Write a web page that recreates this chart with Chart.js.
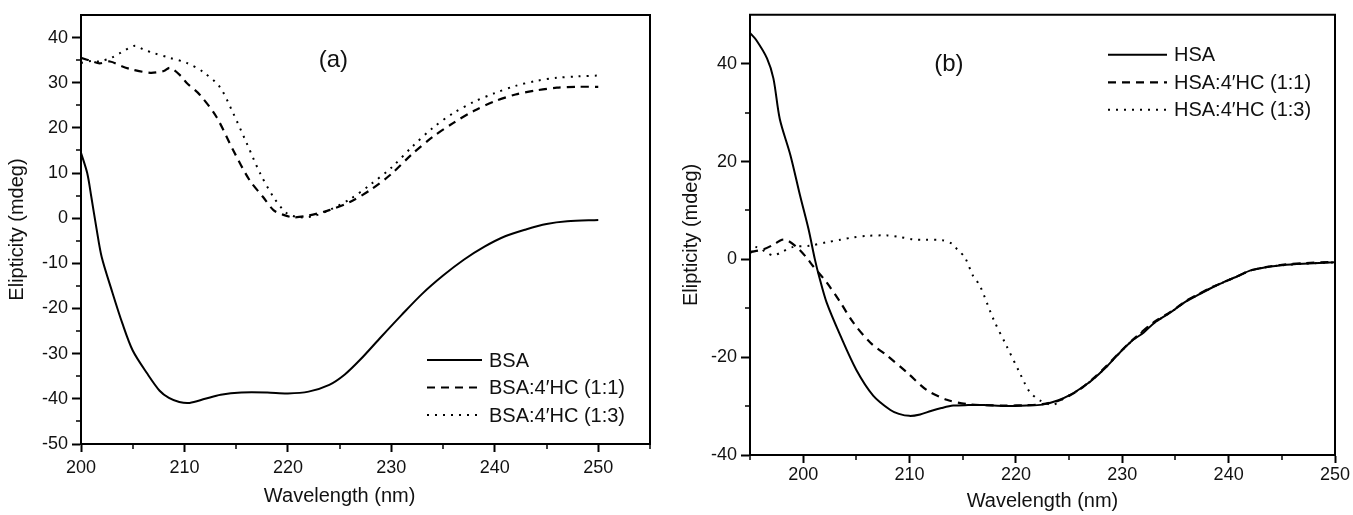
<!DOCTYPE html>
<html>
<head>
<meta charset="utf-8">
<title>CD spectra</title>
<script src="https://cdn.jsdelivr.net/npm/chart.js@4.4.1/dist/chart.umd.min.js"></script>
<style>
    body { margin: 0; background: #fff; overflow: hidden; }
    #wrap_a { position: absolute; left: 0; top: 0; }
    #wrap_b { position: absolute; left: 670px; top: 0; }
</style>
</head>
<body>
<div id="wrap_a"><canvas id="cd_bsa" width="665" height="515"></canvas></div>
<div id="wrap_b"><canvas id="cd_hsa" width="683" height="515"></canvas></div>
<script>

    // (a) BSA
    const wl_bsa = [200, 200.6, 201, 201.5, 202, 203, 204, 205, 206.4, 207.6, 208.5, 209.5, 210.5, 212, 213.5, 215.5, 218, 220, 222, 224, 225.5, 227, 229, 231, 233, 235, 237, 239, 241, 243, 245, 247, 250];
    const cd_bsa = [14.5, 10, 4.7, -2.3, -8.6, -16.2, -23.3, -29.3, -34.4, -38.2, -39.8, -40.7, -40.9, -40, -39.1, -38.6, -38.6, -38.8, -38.4, -36.9, -34.6, -31.3, -26.3, -21.4, -16.7, -12.7, -9.2, -6.3, -4, -2.5, -1.3, -0.7, -0.4];

    const wl_bsa_11 = [200, 201, 201.8, 202.8, 204, 205, 206.7, 208, 208.6, 209.7, 210.2, 211.5, 213.1, 214.7, 216.3, 217.6, 218.6, 219.5, 220.5, 222, 224, 226, 228, 230, 232, 234, 236, 238, 240, 242, 244, 246, 248, 250];
    const cd_bsa_11 = [35.5, 34.8, 34.3, 34.7, 33.6, 32.9, 32.2, 32.6, 33.3, 31.4, 30, 27.3, 22.4, 15.1, 8.4, 4.7, 1.8, 0.8, 0.2, 0.6, 1.8, 3.6, 6.3, 9.8, 14.2, 18, 21.1, 23.8, 25.9, 27.4, 28.3, 28.9, 29.1, 29.1];

    const wl_bsa_13 = [200, 201, 201.8, 203, 203.8, 205.2, 206, 207, 208.6, 210.2, 211.8, 213.4, 214.7, 216, 217.3, 218.6, 219.9, 221.2, 222.5, 224, 226, 228, 230, 232, 234, 236, 238, 240, 242, 244, 246, 248, 250];
    const cd_bsa_13 = [34.4, 34.8, 34.7, 35.6, 36.6, 38.2, 37.4, 36.6, 35.5, 34.4, 32.4, 29.1, 23.3, 16.7, 10, 4.7, 1.1, 0.2, 0.5, 1.8, 4.2, 7.5, 11.2, 15.8, 20, 23.3, 25.8, 27.7, 29.3, 30.4, 31.1, 31.4, 31.6];

    // (b) HSA
    const wl_hsa = [195, 195.6, 196.6, 197.2, 197.8, 198.8, 199.7, 200.5, 201.1, 201.5, 202.2, 203.5, 205, 206.6, 208.2, 209, 210, 211, 212, 213, 214.1, 215.5, 217, 219, 221, 222.5, 224, 225.1, 226, 227.2, 228.5, 229.8, 231, 232, 233, 234.5, 236, 237, 238.5, 239.5, 241, 242, 243.5, 245, 247, 250];
    const cd_hsa = [46.3, 44.8, 41.1, 37, 28.7, 21.3, 13.1, 6.2, 0, -3.5, -8.8, -15.6, -22.6, -27.9, -30.8, -31.6, -32, -31.7, -31, -30.4, -29.9, -29.8, -29.8, -30, -29.9, -29.7, -28.8, -27.7, -26.5, -24.6, -22, -19, -16.5, -15, -13, -10.9, -8.6, -7.4, -5.7, -4.7, -3.3, -2.3, -1.6, -1.2, -0.9, -0.6];

    const wl_hsa_11 = [195, 196.2, 197.2, 198, 198.5, 199.4, 200.3, 200.9, 202.2, 203.5, 204.7, 206.3, 207.9, 209.8, 211.6, 213.5, 215.4, 217, 219, 221, 222.5, 224, 225.1, 226, 227.2, 228.5, 229.8, 231, 233, 234.5, 236, 237, 238.5, 239.5, 241, 242, 243.5, 245, 247, 250];
    const cd_hsa_11 = [1.5, 2, 3, 4, 3.9, 2.5, 0.4, -1.3, -4.7, -8.8, -12.9, -17, -19.7, -23.2, -26.7, -28.7, -29.6, -29.8, -29.9, -29.8, -29.6, -28.9, -27.8, -26.6, -24.5, -21.8, -18.9, -16.4, -12.8, -10.8, -8.5, -7.3, -5.6, -4.7, -3.3, -2.3, -1.6, -1.1, -0.8, -0.5];

    const wl_hsa_13 = [195, 195.6, 196.5, 197.2, 198, 199, 200.6, 202.2, 203.5, 204.7, 206, 207.9, 209, 210.3, 211.5, 213.1, 214, 214.5, 215.2, 216, 216.6, 217.9, 219.1, 220.4, 220.8, 221.3, 222.3, 223.5, 224.5, 226, 227.2, 228.5, 229.8, 231, 233, 234.5, 236, 237, 238.5, 239.5, 241, 242, 243.5, 245, 247, 250];
    const cd_hsa_13 = [1.2, 2.5, 1.5, 0.8, 1.5, 2.5, 2.8, 3.5, 4, 4.5, 4.8, 4.9, 4.6, 4.1, 4, 3.9, 3.2, 2, 0.4, -3.5, -5.3, -12.3, -17.6, -23.4, -25.2, -27.1, -28.9, -29.7, -28.4, -26.6, -24.6, -22, -19, -16.5, -13, -10.9, -8.6, -7.4, -5.7, -4.7, -3.3, -2.3, -1.6, -1.2, -0.9, -0.6];

    // tick values
    const ticks_a_x = [200, 210, 220, 230, 240, 250];
    const minor_a_x = [205, 215, 225, 235, 245, 255];
    const ticks_a_y = [-50, -40, -30, -20, -10, 0, 10, 20, 30, 40];
    const minor_a_y = [-45, -35, -25, -15, -5, 5, 15, 25, 35];

    const ticks_b_x = [200, 210, 220, 230, 240, 250];
    const minor_b_x = [195, 205, 215, 225, 235, 245];
    const ticks_b_y = [-40, -20, 0, 20, 40];
    const minor_b_y = [-30, -10, 10, 30];

    Chart.defaults.font.family = "'Liberation Sans', Arial, Helvetica, sans-serif";
    Chart.defaults.color = '#111';

    const toPoints = (xs, ys) => xs.map((x, i) => ({x: x, y: ys[i]}));

    const solid = {borderColor: '#000', borderWidth: 2, borderDash: []};
    const dashed = {borderColor: '#000', borderWidth: 2.2, borderDash: [8, 6]};
    const dotted = {borderColor: '#000', borderWidth: 2, borderDash: [2, 6]};

    // box frame, minor ticks, panel tag, x title and legend
    const framePlugin = {
        id: 'frame',
        afterDraw(chart, args, opts) {
            const ctx = chart.ctx;
            const a = chart.chartArea;
            const sx = chart.scales.x;
            const sy = chart.scales.y;
            ctx.save();
            ctx.strokeStyle = '#000';
            ctx.lineWidth = 2;
            ctx.setLineDash([]);
            ctx.beginPath();
            ctx.moveTo(a.left - 1, a.top);
            ctx.lineTo(a.right, a.top);
            ctx.lineTo(a.right, a.bottom + 1);
            ctx.stroke();

            ctx.lineWidth = 1.5;
            ctx.beginPath();
            opts.minorX.forEach(v => {
                const px = Math.round(sx.getPixelForValue(v));
                ctx.moveTo(px, a.bottom);
                ctx.lineTo(px, a.bottom + 5);
            });
            opts.minorY.forEach(v => {
                const py = Math.round(sy.getPixelForValue(v));
                ctx.moveTo(a.left, py);
                ctx.lineTo(a.left - 5, py);
            });
            ctx.stroke();

            ctx.fillStyle = '#111';
            ctx.textAlign = 'center';
            ctx.textBaseline = 'middle';
            ctx.font = "24px 'Liberation Sans', Arial, sans-serif";
            ctx.fillText(opts.tag, sx.getPixelForValue(opts.tagAt[0]), sy.getPixelForValue(opts.tagAt[1]));

            ctx.textBaseline = 'alphabetic';
            ctx.font = "20px 'Liberation Sans', Arial, sans-serif";
            const cx = (sx.getPixelForValue(opts.titleRange[0]) + sx.getPixelForValue(opts.titleRange[1])) / 2;
            ctx.fillText(opts.xTitle, cx, opts.xTitleBaseline);

            ctx.textAlign = 'left';
            ctx.textBaseline = 'middle';
            ctx.font = "20px 'Liberation Sans', Arial, sans-serif";
            chart.data.datasets.forEach((ds, i) => {
                const ly = a.top + opts.legend.y + i * 27.5;
                const lx = a.left + opts.legend.x;
                ctx.lineWidth = ds.borderWidth;
                ctx.setLineDash(ds.borderDash);
                ctx.beginPath();
                ctx.moveTo(lx, ly);
                ctx.lineTo(lx + opts.legend.len, ly);
                ctx.stroke();
                ctx.setLineDash([]);
                ctx.fillText(ds.label, lx + opts.legend.len + 7, ly + 1);
            });
            ctx.restore();
        }
    };

    function axisX(min, max, tickList, labelPad, height) {
        return {
            type: 'linear', min: min, max: max,
            afterBuildTicks: (s) => { s.ticks = tickList.map(v => ({value: v})); },
            afterFit: (s) => { s.height = height; },
            grid: {drawOnChartArea: false, drawTicks: true, tickLength: 8, tickWidth: 2, color: '#000'},
            border: {display: true, width: 2, color: '#000'},
            ticks: {padding: labelPad, autoSkip: false, maxRotation: 0, font: {size: 18}, color: '#111'}
        };
    }

    function axisY(min, max, tickList, titlePad, width) {
        return {
            type: 'linear', min: min, max: max,
            afterBuildTicks: (s) => { s.ticks = tickList.map(v => ({value: v})); },
            afterFit: (s) => { s.width = width; },
            grid: {drawOnChartArea: false, drawTicks: true, tickLength: 9, tickWidth: 2, color: '#000'},
            border: {display: true, width: 2, color: '#000'},
            ticks: {padding: 4, autoSkip: false, font: {size: 18}, color: '#111'},
            title: {display: true, text: 'Elipticity (mdeg)', font: {size: 20}, color: '#111', padding: {top: titlePad, bottom: 0}}
        };
    }

    const data_bsa = {
        datasets: [
            Object.assign({label: 'BSA', data: toPoints(wl_bsa, cd_bsa)}, solid),
            Object.assign({label: 'BSA:4\u2032HC (1:1)', data: toPoints(wl_bsa_11, cd_bsa_11)}, dashed),
            Object.assign({label: 'BSA:4\u2032HC (1:3)', data: toPoints(wl_bsa_13, cd_bsa_13)}, dotted)
        ]
    };

    const data_hsa = {
        datasets: [
            Object.assign({label: 'HSA', data: toPoints(wl_hsa, cd_hsa)}, solid),
            Object.assign({label: 'HSA:4\u2032HC (1:1)', data: toPoints(wl_hsa_11, cd_hsa_11)}, dashed),
            Object.assign({label: 'HSA:4\u2032HC (1:3)', data: toPoints(wl_hsa_13, cd_hsa_13)}, dotted)
        ]
    };

    const common = {
        responsive: false,
        animation: false,
        elements: {point: {radius: 0}, line: {tension: 0.3, fill: false}}
    };

    const config_bsa = {
        type: 'line',
        data: data_bsa,
        options: Object.assign({}, common, {
            layout: {padding: {top: 15, right: 15, left: 0, bottom: 0}},
            scales: {
                x: axisX(200, 255, ticks_a_x, 5, 71),
                y: axisY(-50, 45, ticks_a_y, 5, 81)
            },
            plugins: {
                legend: {display: false},
                tooltip: {enabled: false},
                frame: {
                    minorX: minor_a_x, minorY: minor_a_y,
                    tag: '(a)', tagAt: [224.4, 34.9],
                    xTitle: 'Wavelength (nm)', titleRange: [200, 250], xTitleBaseline: 502,
                    legend: {x: 346, y: 345, len: 55}
                }
            }
        }),
        plugins: [framePlugin]
    };

    const config_hsa = {
        type: 'line',
        data: data_hsa,
        options: Object.assign({}, common, {
            layout: {padding: {top: 13, right: 18, left: 0, bottom: 0}},
            scales: {
                x: axisX(195, 250, ticks_b_x, 1, 60),
                y: axisY(-40, 50, ticks_b_y, 9, 80)
            },
            plugins: {
                legend: {display: false},
                tooltip: {enabled: false},
                frame: {
                    minorX: minor_b_x, minorY: minor_b_y,
                    tag: '(b)', tagAt: [213.7, 39.8],
                    xTitle: 'Wavelength (nm)', titleRange: [195, 250], xTitleBaseline: 507,
                    legend: {x: 358, y: 40, len: 59}
                }
            }
        }),
        plugins: [framePlugin]
    };

    const chart_bsa = new Chart(document.getElementById('cd_bsa'), config_bsa);
    const chart_hsa = new Chart(document.getElementById('cd_hsa'), config_hsa);

</script>
</body>
</html>
